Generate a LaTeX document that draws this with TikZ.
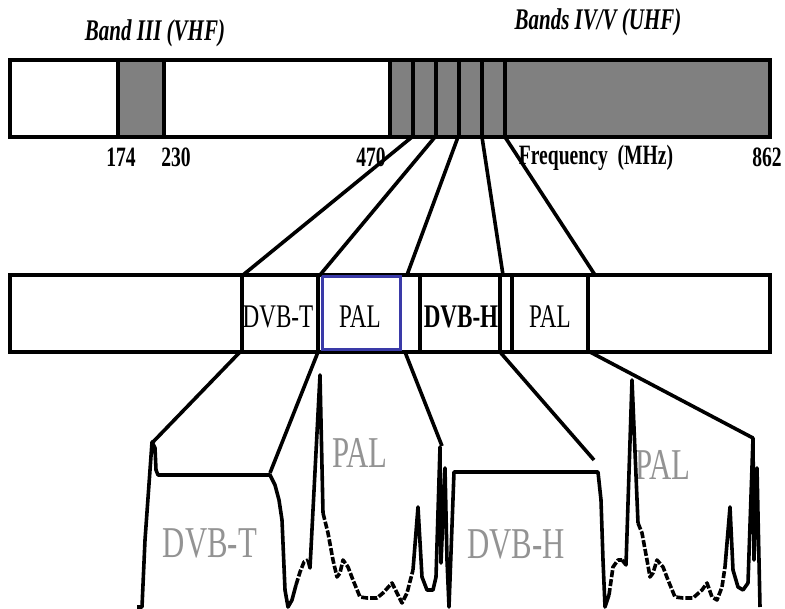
\documentclass[tikz,border=0pt]{standalone}
\usepackage{xcolor}
\usepackage{fontspec}
\setmainfont[FakeStretch=0.7]{Liberation Serif}
\usepackage{tikz}
\usetikzlibrary{positioning}

\definecolor{bandgray}{RGB}{128,128,128}
\definecolor{palblue}{RGB}{58,58,168}

\tikzset{
  bandbar/.style={draw, line width=4.5, minimum width=760, minimum height=77, inner sep=0},
  divider/.style={line width=3.2},
  link/.style={line width=3.6},
  spec/.style={line width=3.6, line join=round},
  specdash/.style={spec, dash pattern=on 7 off 2},
  bandlbl/.style={font=\fontsize{30}{30}\selectfont\bfseries\itshape},
  freqlbl/.style={font=\fontsize{28}{28}\selectfont\bfseries},
  chanlbl/.style={font=\fontsize{33}{33}\selectfont, inner sep=0},
  cell/.style={draw, line width=3.2, minimum height=77, inner sep=0},
  siglbl/.style={font=\fontsize{44}{44}\selectfont, text=gray!85}
}

\begin{document}
\begin{tikzpicture}[x=1pt, y=-1pt]
\useasboundingbox (0,0) rectangle (785,609);

% nodes %
\fill[bandgray] (118,60) rectangle (164,137);
\fill[bandgray] (390,60) rectangle (770,137);
\foreach \x in {118,164,390,413,436,459,482,505}
  \draw[divider] (\x,60) -- (\x,137);
\node[bandbar] (spectrum) at (390,98.5) {};

\node[bandlbl] (vhf) at (155,33) {Band III (VHF)};
\node[bandlbl] (uhf) at (598,22) {Bands IV/V (UHF)};
\node[freqlbl] (f174) at (121,157) {174};
\node[freqlbl] (f230) at (176,157) {230};
\node[freqlbl] (f470) at (371,157) {470};
\node[freqlbl] (fmhz) at (596,158) {Frequency\ \ (MHz)};
\node[freqlbl] (f862) at (767,157) {862};

\node[bandbar] (channels) at (390,313.5) {};
\node[cell, minimum width=76] (dvbt) at (280,313.5) {};
\node[draw=palblue, line width=3, minimum width=78, minimum height=73, inner sep=0] (pal) at (361,313.5) {};
\node[cell, minimum width=80] (dvbh) at (460,313.5) {};
\node[cell, minimum width=76] (pal2) at (550,313.5) {};
\node[chanlbl] at (278,317) {DVB-T};
\node[chanlbl] at (360,317) {PAL};
\node[chanlbl, font=\fontsize{33}{33}\selectfont\bfseries] at (461,317) {DVB-H};
\node[chanlbl] at (550,317) {PAL};

\node[siglbl] (sdvbt) at (210,543) {DVB-T};
\node[siglbl] (spal) at (360,453) {PAL};
\node[siglbl] (sdvbh) at (516,544) {DVB-H};
\node[siglbl] (spal2) at (663,465) {PAL};

% spectrum trace %
\draw[spec] (137,607) -- (142,607) -- (145,540) -- (150,470) -- (152,442) -- (155,448)
  -- (156,470) -- (158,475) -- (270,475) -- (275,485) -- (279,500) -- (282,520)
  -- (285,590) -- (288,607) -- (292,600) -- (296,585);
\draw[specdash] (296,585) -- (300,572) -- (304,562) -- (308,560);
\draw[spec] (308,560) -- (310,568) -- (320,375) -- (323,513);
\draw[specdash] (323,513) -- (328,533) -- (333,560) -- (337,577) -- (340,573) -- (343,560)
  -- (348,567) -- (353,580) -- (360,597) -- (367,598) -- (377,598) -- (383,593)
  -- (392,583) -- (397,593) -- (402,603) -- (407,593) -- (413,570);
\draw[spec] (413,570) -- (418,507) -- (422,577) -- (427,590) -- (433,590) -- (436,577)
  -- (440,447) -- (441,563) -- (445,468) -- (447,560) -- (449,607) -- (454,472)
  -- (598,472) -- (601,500) -- (603,560) -- (605,607) -- (609,595);
\draw[specdash] (609,595) -- (613,567) -- (618,560) -- (622,560);
\draw[spec] (622,560) -- (626,565) -- (632,380) -- (638,523);
\draw[specdash] (638,523) -- (642,533) -- (647,560) -- (650,577) -- (653,573) -- (657,560)
  -- (663,567) -- (668,580) -- (675,597) -- (683,598) -- (693,598) -- (702,590)
  -- (707,583) -- (712,597) -- (717,600) -- (722,587) -- (725,567);
\draw[spec] (725,567) -- (730,507) -- (733,570) -- (738,587) -- (743,590) -- (748,583)
  -- (753,438) -- (754,560) -- (757,468) -- (760,607);

% edges %
\foreach \a/\b [count=\i] in {412/243, 435/320, 458/407, 482/503, 505/595} {
  \coordinate (u\i) at (\a,137);
  \coordinate (m\i) at (\b,275);
  \draw[link] (u\i) -- (m\i);
}
\coordinate (d1) at (240,352);
\coordinate (d2) at (318,352);
\coordinate (d3) at (405,352);
\coordinate (d4) at (500,352);
\coordinate (d5) at (590,352);
\coordinate (s1) at (153,442);
\coordinate (s2) at (270,473);
\coordinate (s3) at (442,446);
\coordinate (s4) at (594,460);
\coordinate (s5) at (753,438);
\foreach \i in {1,...,5}
  \draw[link] (d\i) -- (s\i);

\end{tikzpicture}
\end{document}
